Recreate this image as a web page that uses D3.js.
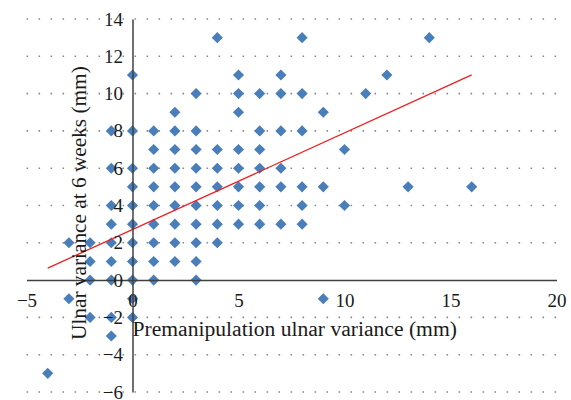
<!DOCTYPE html>
<html>
<head>
<meta charset="utf-8">
<script src="https://cdn.jsdelivr.net/npm/d3@7"></script>
<style>
  body { margin: 0; background: #fff; }
  svg text { font-family: "Liberation Serif", "DejaVu Serif", serif; fill: #1a1a1a; }
</style>
</head>
<body>
<svg id="chart" width="571" height="400"></svg>
<script>
// Values, one group per x column
const premanipulation = [
  -4,
  -3, -3,
  -2, -2, -2, -2,
  -1, -1, -1, -1, -1, -1, -1, -1, -1,
  0, 0, 0, 0, 0, 0, 0, 0, 0, 0, 0,
  1, 1, 1, 1, 1, 1, 1, 1, 1,
  2, 2, 2, 2, 2, 2, 2, 2, 2,
  3, 3, 3, 3, 3, 3, 3, 3, 3, 3,
  4, 4, 4, 4, 4, 4, 4,
  5, 5, 5, 5, 5, 5, 5, 5,
  6, 6, 6, 6, 6, 6, 6,
  7, 7, 7, 7, 7, 7,
  8, 8, 8, 8, 8, 8,
  9, 9, 9,
  10, 10,
  11, 12, 13, 14, 16
];
const sixWeeks = [
  -5,
  2, -1,
  2, 1, 0, -2,
  8, 6, 4, 3, 2, 1, 0, -2, -3,
  11, 8, 6, 5, 4, 3, 2, 1, 0, -1, -2,
  8, 7, 6, 5, 4, 3, 2, 1, 0,
  9, 8, 7, 6, 5, 4, 3, 2, 1,
  10, 8, 7, 6, 5, 4, 3, 2, 1, 0,
  13, 7, 6, 5, 4, 3, 2,
  11, 10, 9, 7, 6, 5, 4, 3,
  10, 8, 7, 6, 5, 4, 3,
  11, 10, 8, 6, 5, 3,
  13, 10, 8, 5, 4, 3,
  9, 5, -1,
  7, 4,
  10, 11, 5, 13, 5
];

// trend line end points
const trendX = [-4, 16];
const trendY = [0.64, 11.0];

const xTicks = [-5, 0, 5, 10, 15, 20];
const yTicks = [-6, -4, -2, 0, 2, 4, 6, 8, 10, 12, 14];

const svg = d3.select("#chart");

const x = d3.scaleLinear().domain([-5, 20]).range([26.5, 556.5]);
const y = d3.scaleLinear().domain([-6, 14]).range([392, 19]);

//dotted gridlines
svg.append("g")
  .selectAll("line")
  .data(yTicks.filter(d => d !== 0))
  .enter()
  .append("line")
  .attr("x1", x(-5))
  .attr("x2", x(20))
  .attr("y1", d => y(d))
  .attr("y2", d => y(d))
  .attr("stroke", "#8a8a8a")
  .attr("stroke-width", 1.6)
  .attr("stroke-dasharray", "1.6,10.4");

//axes crossing at the origin
const xAxis = svg.append("g")
  .attr("transform", `translate(0,${y(0)})`)
  .call(d3.axisBottom(x).tickValues(xTicks).tickSize(0).tickPadding(13));

const yAxis = svg.append("g")
  .attr("transform", `translate(${x(0)},0)`)
  .call(d3.axisLeft(y).tickValues(yTicks).tickSize(0).tickPadding(9.5));

[xAxis, yAxis].forEach(g => {
  g.select(".domain").attr("stroke", "#404040").attr("stroke-width", 1.5);
  g.selectAll("text")
    .attr("font-family", "Liberation Serif, DejaVu Serif, serif")
    .attr("font-size", 19)
    .attr("fill", "#1a1a1a");
  g.attr("font-family", null);
});

//points
svg.append("g")
  .selectAll("path")
  .data(premanipulation.map((d, i) => [d, sixWeeks[i]]))
  .enter()
  .append("path")
  .attr("d", d3.symbol(d3.symbolSquare, 62))
  .attr("transform", d => `translate(${x(d[0])},${y(d[1])}) rotate(45)`)
  .attr("fill", "#4a7ebb");

//trend line
svg.append("line")
  .attr("x1", x(trendX[0]))
  .attr("y1", y(trendY[0]))
  .attr("x2", x(trendX[1]))
  .attr("y2", y(trendY[1]))
  .attr("stroke", "#f01e1e")
  .attr("stroke-width", 1.3);

// keep tick labels above the markers
xAxis.raise();
yAxis.raise();

//axis titles
svg.append("text")
  .attr("x", x(0))
  .attr("y", 336)
  .attr("font-size", 21.6)
  .text("Premanipulation ulnar variance (mm)");

svg.append("text")
  .attr("transform", "translate(86,340) rotate(-90)")
  .attr("font-size", 21.3)
  .text("Ulnar variance at 6 weeks (mm)");
</script>
</body>
</html>
